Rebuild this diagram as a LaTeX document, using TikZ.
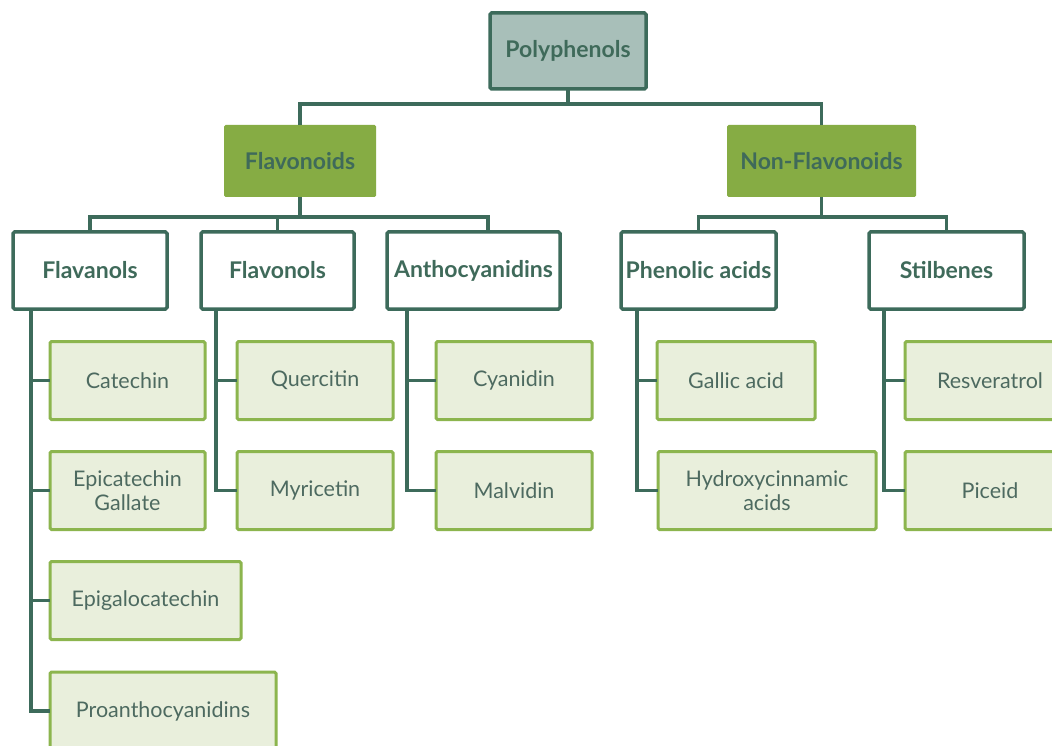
\documentclass[tikz,border=0pt]{standalone}
\usepackage{fontspec}
\setmainfont{Lato}
\definecolor{dkgreen}{HTML}{3D6B5B}
\definecolor{txtgreen}{HTML}{3F6A5A}
\definecolor{leaftxt}{HTML}{4D6A60}
\definecolor{polyfill}{HTML}{A8BFB9}
\definecolor{flavfill}{HTML}{86AC44}
\definecolor{leaffill}{HTML}{E9EFDC}
\definecolor{leafline}{HTML}{8CB54E}
\tikzset{
  base/.style={inner sep=0pt, outer sep=0pt, align=center, rounded corners=1.5pt},
  rootbox/.style={base, draw=dkgreen, line width=3.5pt, fill=polyfill, text=txtgreen, font=\fontsize{23}{26}\selectfont\bfseries},
  catbox/.style={base, fill=flavfill, text=txtgreen, font=\fontsize{23}{26}\selectfont\bfseries},
  subbox/.style={base, draw=dkgreen, line width=3.5pt, fill=white, text=txtgreen, font=\fontsize{23}{26}\selectfont\bfseries},
  leafbox/.style={base, draw=leafline, line width=3pt, fill=leaffill, text=leaftxt, font=\fontsize{21.5}{24}\selectfont},
  conn/.style={draw=dkgreen, line width=3.5pt},
}
\begin{document}
\begin{tikzpicture}[x=1pt,y=-1pt]
\useasboundingbox (0,0) rectangle (1052,746);
\clip (0,0) rectangle (1052,746);
\fill[white] (0,0) rectangle (1052,746);
% top
\node[rootbox, minimum width=156pt, minimum height=76pt] (poly) at (568,51) {Polyphenols};
\node[catbox, minimum width=152pt, minimum height=72pt] (flav) at (300,161) {Flavonoids};
\node[catbox, minimum width=189pt, minimum height=72pt] (nonflav) at (821.5,161) {Non-Flavonoids};
% level 2
\node[subbox, minimum width=154pt, minimum height=77pt] (flavanols) at (90,270.5) {Flavanols};
\node[subbox, minimum width=153pt, minimum height=77pt] (flavonols) at (277.5,270.5) {Flavonols};
\node[subbox, minimum width=173pt, minimum height=77pt] (antho) at (473.5,270.5) {Anthocyanidins};
\node[subbox, minimum width=155pt, minimum height=77pt] (phenolic) at (698.5,270.5) {Phenolic acids};
\node[subbox, minimum width=155pt, minimum height=77pt] (stilb) at (946.5,270.5) {Stilbenes};
% leaves
\node[leafbox, minimum width=155pt, minimum height=78pt] (catechin) at (127.5,380.5) {Catechin};
\node[leafbox, minimum width=155pt, minimum height=78pt] (epicat) at (127.5,490.5) {Epicatechin\\Gallate};
\node[leafbox, minimum width=191pt, minimum height=78pt] (epigal) at (145.5,600.5) {Epigalocatechin};
\node[leafbox, minimum width=226pt, minimum height=78pt] (proan) at (163,711) {Proanthocyanidins};
\node[leafbox, minimum width=156pt, minimum height=78pt] (querc) at (315,380.5) {Quercitin};
\node[leafbox, minimum width=156pt, minimum height=78pt] (myric) at (315,490.5) {Myricetin};
\node[leafbox, minimum width=156pt, minimum height=78pt] (cyan) at (514,380.5) {Cyanidin};
\node[leafbox, minimum width=156pt, minimum height=78pt] (malv) at (514,490.5) {Malvidin};
\node[leafbox, minimum width=158pt, minimum height=78pt] (gallic) at (736,380.5) {Gallic acid};
\node[leafbox, minimum width=218pt, minimum height=78pt] (hydroxy) at (767,490.5) {Hydroxycinnamic\\acids};
\node[leafbox, minimum width=170pt, minimum height=78pt] (resv) at (990,380.5) {Resveratrol};
\node[leafbox, minimum width=170pt, minimum height=78pt] (piceid) at (990,490.5) {Piceid};
% connectors top
\coordinate (b1) at (568,104);
\draw[conn] (poly.south) -- (b1);
\draw[conn] (flav.north) |- (b1) -| (nonflav.north);
% flavonoids branch
\coordinate (b2) at (488,217);
\draw[conn] (flav.south) -- (flav.south |- b2);
\draw[conn] (flavanols.north) |- (b2) -- (b2 |- antho.north);
\draw[conn] (flavonols.north) -- (flavonols.north |- b2);
% non-flavonoids branch
\coordinate (b3) at (821.5,217);
\draw[conn] (nonflav.south) -- (b3);
\draw[conn] (phenolic.north) |- (b3) -| (stilb.north);
% leaf connectors
\coordinate (l1) at (31,309);
\draw[conn] (l1) |- (proan.west);
\draw[conn] (catechin.west -| l1) -- (catechin.west);
\draw[conn] (epicat.west -| l1) -- (epicat.west);
\draw[conn] (epigal.west -| l1) -- (epigal.west);
\coordinate (l2) at (216,309);
\draw[conn] (l2) |- (myric.west);
\draw[conn] (querc.west -| l2) -- (querc.west);
\coordinate (l3) at (407,309);
\draw[conn] (l3) |- (malv.west);
\draw[conn] (cyan.west -| l3) -- (cyan.west);
\coordinate (l4) at (637,309);
\draw[conn] (l4) |- (hydroxy.west);
\draw[conn] (gallic.west -| l4) -- (gallic.west);
\coordinate (l5) at (884,309);
\draw[conn] (l5) |- (piceid.west);
\draw[conn] (resv.west -| l5) -- (resv.west);
\end{tikzpicture}
\end{document}
